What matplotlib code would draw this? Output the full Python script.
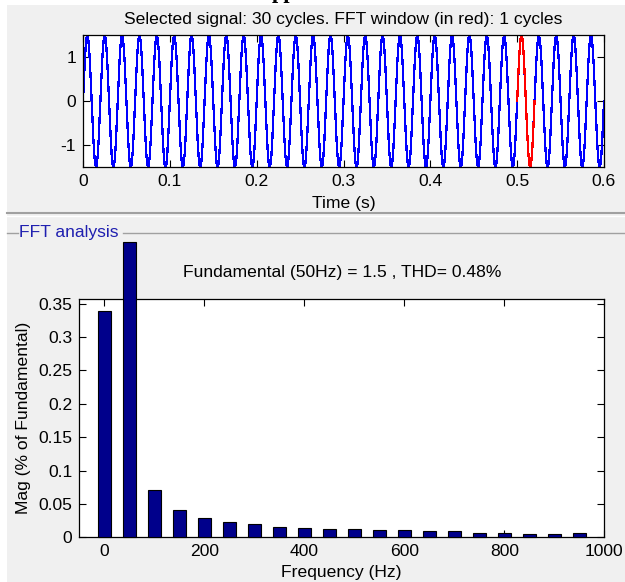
import numpy as np
import matplotlib.pyplot as plt
from matplotlib.patches import Rectangle
from matplotlib.lines import Line2D

plt.rcParams['font.family'] = ['Liberation Sans', 'DejaVu Sans']
plt.rcParams['axes.unicode_minus'] = False

# one cycle of the selected signal, 1 kHz samples (50 Hz, 1.5 peak)
cycle_vals = [0.0, 0.46, 0.88, 1.21, 1.43, 1.5, 1.43, 1.21, 0.88, 0.46,
              0.0, -0.46, -0.88, -1.21, -1.43, -1.5, -1.43, -1.21, -0.88, -0.46]
n_cycles = 30
fs = 1000
win_start = 0.5
win_end = 0.52

# FFT result (% of fundamental), fundamental bar is clipped by the panel
freqs = [0, 50, 100, 150, 200, 250, 300, 350, 400, 450,
         500, 550, 600, 650, 700, 750, 800, 850, 900, 950]
mags = [0.339, 0.443, 0.0715, 0.041, 0.0285, 0.0235, 0.0195, 0.016, 0.014, 0.0125,
        0.0125, 0.0105, 0.011, 0.009, 0.009, 0.007, 0.007, 0.005, 0.005, 0.007]

sig_title = 'Selected signal: 30 cycles. FFT window (in red): 1 cycles'
fft_title = 'Fundamental (50Hz) = 1.5 , THD= 0.48%'

signal = np.append(np.tile(cycle_vals, n_cycles), cycle_vals[0])
t = np.arange(len(signal)) / fs

W, H = 625, 582
FS = 12.6
fig = plt.figure(figsize=(W / 100, H / 100), dpi=100, facecolor='white')

# gray GUI background + panel lines
fig.patches.append(Rectangle((7 / W, 0), 1, 1 - 5 / H, transform=fig.transFigure,
                             facecolor='#f0f0f0', edgecolor='none', zorder=-10))
fig.text(0.455, 1 + 2 / H, 'pp', fontsize=16, fontweight='bold',
         family='Liberation Serif', va='baseline', ha='center')
fig.lines.append(Line2D([7 / W, 1], [1 - 213 / H] * 2, transform=fig.transFigure,
                        color='#a0a0a0', lw=1.5))
fig.lines.append(Line2D([7 / W, 1], [1 - 215.5 / H] * 2, transform=fig.transFigure,
                        color='white', lw=1))
fig.lines.append(Line2D([7 / W, 18 / W], [1 - 232.5 / H] * 2, transform=fig.transFigure,
                        color='#a0a0a0', lw=1))
fig.lines.append(Line2D([123 / W, 1], [1 - 232.5 / H] * 2, transform=fig.transFigure,
                        color='#a0a0a0', lw=1))
fig.text(19 / W, 1 - 232 / H, 'FFT analysis', color='#1f1fb0', fontsize=FS,
         va='center', ha='left')

# top: selected signal
ax1 = fig.add_axes([83 / W, 1 - 167.3 / H, 521 / W, 132 / H])
ax1.plot(t, signal, color='#0000ff', lw=0.9, antialiased=False)
win = (t >= win_start - 1e-9) & (t <= win_end + 1e-9)
ax1.plot(t[win], signal[win], color='#ff0000', lw=0.9, antialiased=False)
ax1.set_xlim(0, 0.6)
ax1.set_ylim(-1.5, 1.5)
ax1.set_xticks([0, 0.1, 0.2, 0.3, 0.4, 0.5, 0.6])
ax1.set_xticklabels(['0', '0.1', '0.2', '0.3', '0.4', '0.5', '0.6'])
ax1.set_yticks([-1, 0, 1])
ax1.set_title(sig_title, fontsize=FS, pad=8)
ax1.set_xlabel('Time (s)', fontsize=FS, labelpad=5)

# bottom: FFT bars
ax2 = fig.add_axes([79.3 / W, 1 - 537.3 / H, 525 / W, 238.3 / H])
ax2.bar(freqs, mags, width=26, color='#00008b', edgecolor='black', lw=0.8,
        clip_on=False, zorder=3)
ax2.set_xlim(-50, 1000)
ax2.set_ylim(0, 0.357)
ax2.set_xticks([0, 200, 400, 600, 800, 1000])
ax2.set_yticks([0, 0.05, 0.1, 0.15, 0.2, 0.25, 0.3, 0.35])
ax2.set_yticklabels(['0', '0.05', '0.1', '0.15', '0.2', '0.25', '0.3', '0.35'])
ax2.set_title(fft_title, fontsize=FS, pad=16)
ax2.set_xlabel('Frequency (Hz)', fontsize=FS, labelpad=4.5)
ax2.set_ylabel('Mag (% of Fundamental)', fontsize=FS, labelpad=5)

for ax in (ax1, ax2):
    ax.set_facecolor('white')
    ax.tick_params(direction='in', top=True, right=True, length=5, width=0.8,
                   labelsize=FS, pad=5)
    for s in ax.spines.values():
        s.set_linewidth(0.9)

fig.savefig('out.png', dpi=100, facecolor=fig.get_facecolor())
